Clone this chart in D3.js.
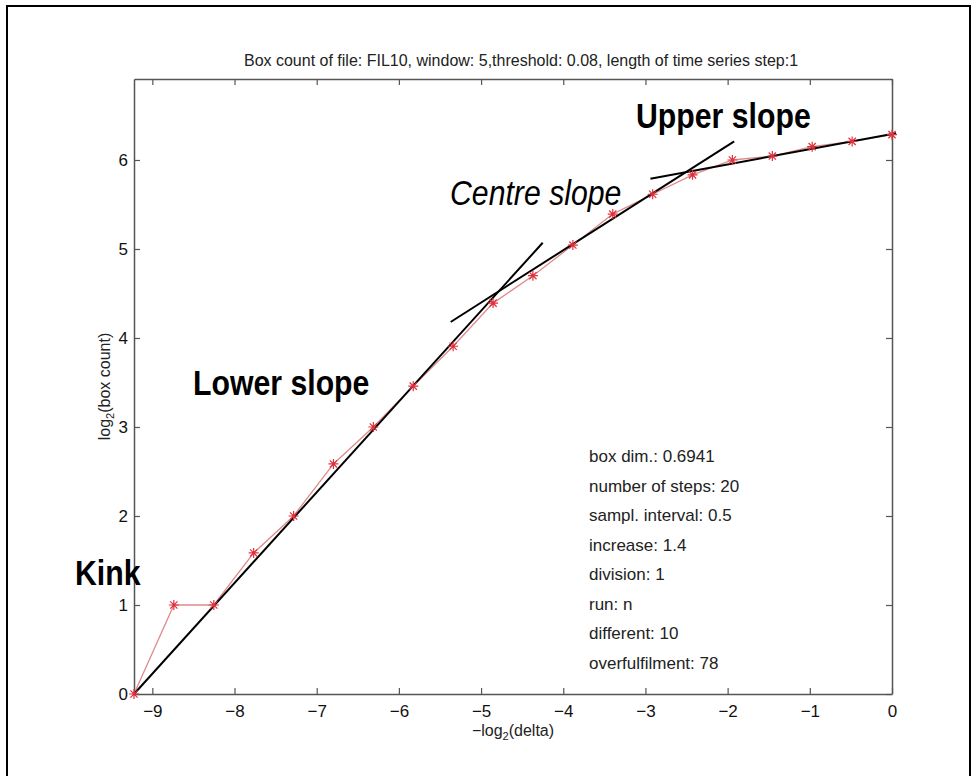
<!DOCTYPE html>
<html>
<head>
<meta charset="utf-8">
<script src="https://cdn.jsdelivr.net/npm/d3@7"></script>
<style>
body{margin:0;background:#fff;}
svg{display:block;font-family:"Liberation Sans",Arial,Helvetica,sans-serif;}
</style>
</head>
<body>
<div class="chart"></div>
<script>
// box count data: -log2(delta) and log2(box count)
var xVals=[-9.223,-8.738,-8.252,-7.767,-7.281,-6.796,-6.311,-5.825,-5.340,-4.854,-4.369,-3.883,-3.398,-2.912,-2.427,-1.942,-1.456,-0.971,-0.485,0];
var yVals=[0,1,1,1.585,2,2.585,3,3.459,3.907,4.392,4.700,5.044,5.392,5.615,5.833,6,6.044,6.150,6.209,6.285];
// fitted slope segments [x0,y0,x1,y1]
var lowerSlope=[-9.223,0,-4.25,5.07];
var centreSlope=[-5.37,4.18,-1.92,6.21];
var upperSlope=[-2.94,5.79,0.05,6.30];
var xTicks=[-9,-8,-7,-6,-5,-4,-3,-2,-1,0];
var yTicks=[0,1,2,3,4,5,6];
var infoLines=["box dim.: 0.6941","number of steps: 20","sampl. interval: 0.5","increase: 1.4","division: 1","run: n","different: 10","overfulfilment: 78"];
var title="Box count of file: FIL10, window: 5,threshold: 0.08, length of time series step:1";

var width=977,height=776;
var pLeft=134,pRight=892,pTop=79,pBottom=694;

var svg=d3.select('div.chart')
	.append('svg')
	.attr('width',width)
	.attr('height',height);

//outer frame (open at the bottom, runs off the page)
svg.append('path')
	.attr('d','M7,'+height+'V6H970V'+height)
	.attr('fill','none')
	.attr('stroke','#000')
	.attr('stroke-width',2);

var x=d3.scaleLinear().domain([-9.223,0]).range([pLeft,pRight]);
var y=d3.scaleLinear().domain([0,6.91]).range([pBottom,pTop]);

var axisColor='#555';
//axes with inward ticks on all sides
var gx=svg.append('g').attr('transform','translate(0,'+pBottom+')')
	.call(d3.axisBottom(x).tickValues(xTicks).tickSizeInner(-6).tickSizeOuter(0).tickPadding(11).tickFormat(d3.format('d')));
var gxt=svg.append('g').attr('transform','translate(0,'+pTop+')')
	.call(d3.axisTop(x).tickValues(xTicks).tickSizeInner(-6).tickSizeOuter(0).tickFormat(''));
var gy=svg.append('g').attr('transform','translate('+pLeft+',0)')
	.call(d3.axisLeft(y).tickValues(yTicks).tickSizeInner(-6).tickSizeOuter(0).tickPadding(6).tickFormat(d3.format('d')));
var gyr=svg.append('g').attr('transform','translate('+pRight+',0)')
	.call(d3.axisRight(y).tickValues(yTicks).tickSizeInner(-6).tickSizeOuter(0).tickFormat(''));
[gx,gxt,gy,gyr].forEach(function(g){
	g.select('.domain').attr('stroke',axisColor).attr('stroke-width',1.5);
	g.selectAll('.tick line').attr('stroke',axisColor).attr('stroke-width',1.2);
	g.selectAll('.tick text').attr('fill','#111').style('font-size','17px').style('font-family','"Liberation Sans",Arial,sans-serif');
});

//title
svg.append('text')
	.attr('x',(pLeft+pRight)/2+8).attr('y',66)
	.attr('text-anchor','middle')
	.style('font-size','16px')
	.attr('fill','#222')
	.text(title);

//axis labels
var xl=svg.append('text')
	.attr('x',(pLeft+pRight)/2).attr('y',736)
	.attr('text-anchor','middle')
	.style('font-size','16px')
	.attr('fill','#222');
xl.append('tspan').text('\u2212log');
xl.append('tspan').attr('dy',4).style('font-size','11px').text('2');
xl.append('tspan').attr('dy',-4).text('(delta)');

var yl=svg.append('text')
	.attr('transform','translate(110,'+((pTop+pBottom)/2)+') rotate(-90)')
	.attr('text-anchor','middle')
	.style('font-size','16px')
	.attr('fill','#222');
yl.append('tspan').text('log');
yl.append('tspan').attr('dy',4).style('font-size','11px').text('2');
yl.append('tspan').attr('dy',-4).text('(box count)');

//data line
var pts=xVals.map(function(d,i){return [d,yVals[i]];});
var line=d3.line().x(function(d){return x(d[0]);}).y(function(d){return y(d[1]);});
svg.append('path')
	.datum(pts)
	.attr('d',line)
	.attr('fill','none')
	.attr('stroke','#e08a8a')
	.attr('stroke-width',1.3);

//fitted slopes
[lowerSlope,centreSlope,upperSlope].forEach(function(s){
	svg.append('line')
		.attr('x1',x(s[0])).attr('y1',y(s[1]))
		.attr('x2',x(s[2])).attr('y2',y(s[3]))
		.attr('stroke','#000')
		.attr('stroke-width',2);
});

//star markers
var r=5,rd=3.6;
svg.selectAll('path.star')
	.data(pts)
	.enter()
	.append('path')
	.attr('class','star')
	.attr('transform',function(d){return 'translate('+x(d[0])+','+y(d[1])+')';})
	.attr('d','M'+(-r)+',0H'+r+'M0,'+(-r)+'V'+r+'M'+(-rd)+','+(-rd)+'L'+rd+','+rd+'M'+(-rd)+','+rd+'L'+rd+','+(-rd))
	.attr('stroke','#e0303c')
	.attr('stroke-width',1.2)
	.attr('fill','none');

//info text
svg.selectAll('text.info')
	.data(infoLines)
	.enter()
	.append('text')
	.attr('class','info')
	.attr('x',589)
	.attr('y',function(d,i){return 462+i*29.5;})
	.style('font-size','17px')
	.attr('fill','#222')
	.text(function(d){return d;});

//annotations (narrow face)
function note(t,px,py,italic){
	svg.append('text')
		.attr('transform','translate('+px+','+py+') scale(0.84,1)')
		.style('font-size','36px')
		.style('font-weight',italic?'normal':'bold')
		.style('font-style',italic?'italic':'normal')
		.attr('fill','#000')
		.text(t);
}
note('Upper slope',636,128,false);
note('Centre slope',450,205,true);
note('Lower slope',193,395,false);
note('Kink',75,585,false);
</script>
</body>
</html>
